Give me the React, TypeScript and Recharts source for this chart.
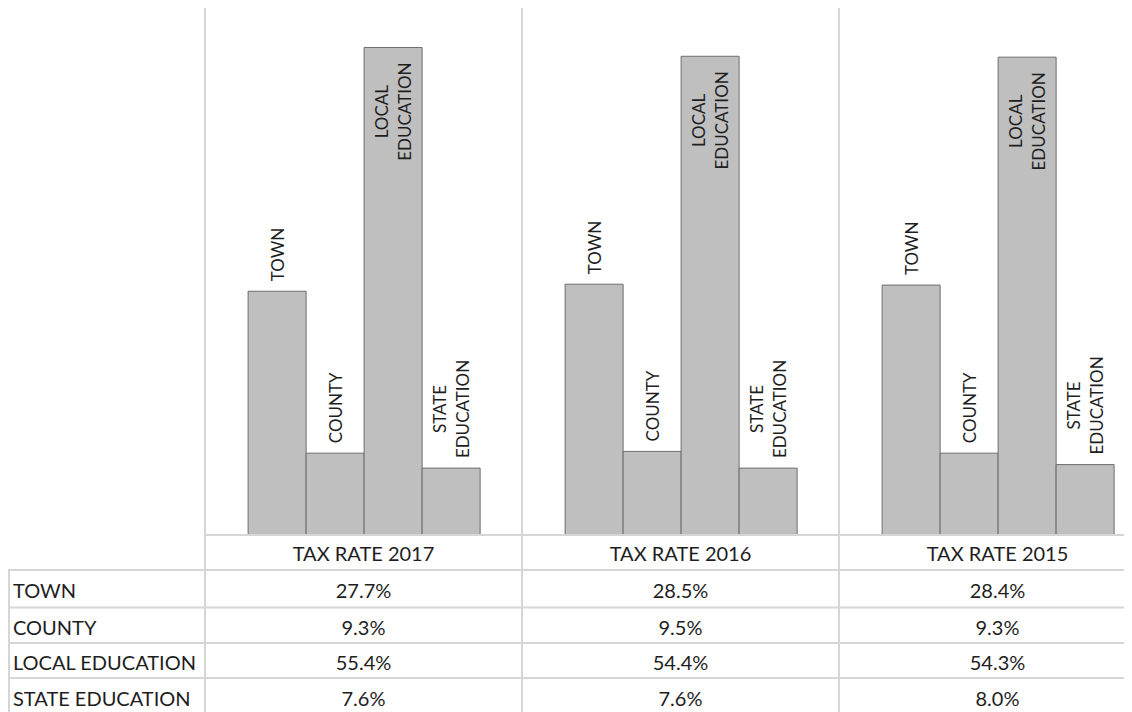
import React from 'react';
import { BarChart, Bar, XAxis, YAxis, ReferenceLine, LabelList } from 'recharts';

// ---- data ----
const categories = ['TAX RATE 2017', 'TAX RATE 2016', 'TAX RATE 2015'];
const seriesNames = ['TOWN', 'COUNTY', 'LOCAL EDUCATION', 'STATE EDUCATION'];
const seriesKeys = ['town', 'county', 'localEducation', 'stateEducation'];
const barLabelLines = [['TOWN'], ['COUNTY'], ['LOCAL', 'EDUCATION'], ['STATE', 'EDUCATION']];
const town = [27.7, 28.5, 28.4];
const county = [9.3, 9.5, 9.3];
const localEducation = [55.4, 54.4, 54.3];
const stateEducation = [7.6, 7.6, 8.0];
const seriesValues = [town, county, localEducation, stateEducation];
const yDomain = [0, 60];

const data = categories.map((c, i) => {
  const row: any = { category: c };
  seriesKeys.forEach((k, s) => {
    row[k] = seriesValues[s][i];
  });
  return row;
});

// ---- style ----
const FONT = 'Lato, "Noto Sans", sans-serif';
const TEXT_COLOR = '#1e1e1e';
const GRID_COLOR = '#d6d6d6';
const BAR_FILL = '#bfbfbf';
const BAR_STROKE = '#6e6e6e';
const LABEL_SIZE = 17;
const TABLE_SIZE = 20;
const LABEL_GAP = 10;
const INSIDE_PAD = 15;
const LINE_SPACING = 23;
const MARGIN = { top: 0, right: 0, bottom: 12, left: 197 };
const TABLE_LINES = [35, 72.5, 108, 143, 178];
const HEADER_TEXT = 18;
const ROW_TEXT = [55, 91.5, 127, 162.5];

let measureCtx: CanvasRenderingContext2D | null = null;
function measure(text: string, size: number): number {
  try {
    if (typeof document !== 'undefined') {
      if (!measureCtx) measureCtx = document.createElement('canvas').getContext('2d');
      if (measureCtx) {
        measureCtx.font = `${size}px Lato`;
        return measureCtx.measureText(text).width;
      }
    }
  } catch (e) {
    // ignore
  }
  return text.length * size * 0.62;
}

const makeLabel = (lines: string[]) => (props: any) => {
  const { x, y, width } = props;
  if (x == null || y == null) return null;
  const cx = Number(x) + Number(width) / 2;
  const top = Number(y);
  const len = Math.max(...lines.map((l) => measure(l, LABEL_SIZE)));
  let cy: number;
  if (top - LABEL_GAP - len < MARGIN.top) {
    cy = top + INSIDE_PAD + len / 2;
  } else {
    cy = top - LABEL_GAP - len / 2;
  }
  const n = lines.length;
  return (
    <text
      transform={`translate(${cx},${cy}) rotate(-90)`}
      textAnchor="middle"
      fontFamily={FONT}
      fontSize={LABEL_SIZE}
      fill={TEXT_COLOR}
    >
      {lines.map((l, i) => (
        <tspan key={i} x={0} y={(i - (n - 1) / 2) * LINE_SPACING} dominantBaseline="central">
          {l}
        </tspan>
      ))}
    </text>
  );
};

const TableTick = (props: any) => {
  const { x, y, payload, index, width, visibleTicksCount } = props;
  const count = visibleTicksCount || categories.length;
  const band =
    payload && typeof payload.offset === 'number' && payload.offset > 0
      ? payload.offset * 2
      : Number(width) / count;
  const left = x - band / 2;
  const right = x + band / 2;
  const bottom = y + TABLE_LINES[TABLE_LINES.length - 1];
  const colIdx = categories.indexOf(payload.value);
  return (
    <g>
      <line x1={left} x2={right} y1={y} y2={y} stroke={GRID_COLOR} strokeWidth={2} />
      {TABLE_LINES.map((d, i) => (
        <line key={i} x1={left} x2={right} y1={y + d} y2={y + d} stroke={GRID_COLOR} strokeWidth={2} />
      ))}
      <line x1={left} x2={left} y1={y} y2={bottom} stroke={GRID_COLOR} strokeWidth={2} />
      {index === count - 1 && (
        <line x1={right} x2={right} y1={y} y2={bottom} stroke={GRID_COLOR} strokeWidth={2} />
      )}
      <text
        x={x}
        y={y + HEADER_TEXT}
        textAnchor="middle"
        dominantBaseline="central"
        fontFamily={FONT}
        fontSize={TABLE_SIZE}
        fill={TEXT_COLOR}
      >
        {payload.value}
      </text>
      {seriesValues.map((vals, s) => (
        <text
          key={s}
          x={x}
          y={y + ROW_TEXT[s]}
          textAnchor="middle"
          dominantBaseline="central"
          fontFamily={FONT}
          fontSize={TABLE_SIZE}
          fill={TEXT_COLOR}
        >
          {`${vals[colIdx].toFixed(1)}%`}
        </text>
      ))}
      {index === 0 && (
        <g>
          {TABLE_LINES.map((d, i) => (
            <line
              key={i}
              x1={left - MARGIN.left}
              x2={left}
              y1={y + d}
              y2={y + d}
              stroke={GRID_COLOR}
              strokeWidth={2}
            />
          ))}
          <line
            x1={left - MARGIN.left + 1}
            x2={left - MARGIN.left + 1}
            y1={y + TABLE_LINES[0]}
            y2={bottom}
            stroke={GRID_COLOR}
            strokeWidth={2}
          />
          {seriesNames.map((name, s) => (
            <text
              key={s}
              x={left - MARGIN.left + 5}
              y={y + ROW_TEXT[s]}
              textAnchor="start"
              dominantBaseline="central"
              fontFamily={FONT}
              fontSize={TABLE_SIZE}
              fill={TEXT_COLOR}
            >
              {name}
            </text>
          ))}
        </g>
      )}
    </g>
  );
};

export default function App() {
  return (
    <div style={{ width: 1124, height: 705, overflow: 'hidden', marginTop: -1, background: '#fff' }}>
      <BarChart
        width={1148}
        height={720}
        data={data}
        margin={MARGIN}
        barCategoryGap="13.6%"
        barGap={0}
      >
        <XAxis
          dataKey="category"
          axisLine={false}
          tickLine={false}
          tickSize={0}
          tickMargin={0}
          height={180}
          interval={0}
          tick={<TableTick />}
        />
        <YAxis hide domain={yDomain} />
        {categories.map((c) => (
          <ReferenceLine key={c} x={c} position="start" stroke={GRID_COLOR} strokeWidth={2} />
        ))}
        <ReferenceLine x={categories[categories.length - 1]} position="end" stroke={GRID_COLOR} strokeWidth={2} />
        {seriesKeys.map((k, s) => (
          <Bar
            key={k}
            dataKey={k}
            name={seriesNames[s]}
            fill={BAR_FILL}
            stroke={BAR_STROKE}
            strokeWidth={1}
            isAnimationActive={false}
          >
            <LabelList dataKey={k} content={makeLabel(barLabelLines[s])} />
          </Bar>
        ))}
      </BarChart>
    </div>
  );
}
